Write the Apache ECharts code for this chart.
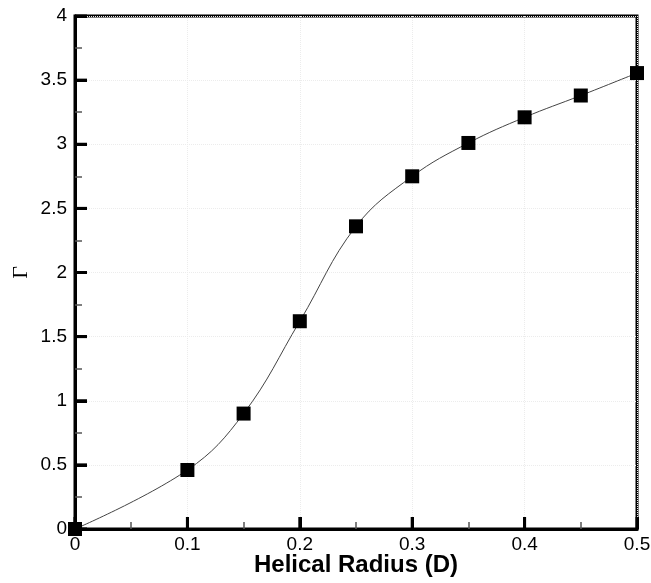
<!DOCTYPE html>
<html>
<head>
<meta charset="utf-8">
<script src="https://cdn.jsdelivr.net/npm/echarts@6/dist/echarts.min.js"></script>
<style>
  html, body { margin: 0; padding: 0; background: #fff; }
  #main { width: 651px; height: 583px; }
</style>
</head>
<body>
<div id="main"></div>
<script>
// helical radius (D) and circulation values
var radius = [0, 0.1, 0.15, 0.2, 0.25, 0.3, 0.35, 0.4, 0.45, 0.5];
var gamma = [0, 0.46, 0.9, 1.62, 2.36, 2.75, 3.01, 3.21, 3.38, 3.555];

// major tick values
var xTicks = [0, 0.1, 0.2, 0.3, 0.4, 0.5];
var yTicks = [0, 0.5, 1, 1.5, 2, 2.5, 3, 3.5, 4];

var points = [];
for (var i = 0; i < radius.length; i++) {
    points.push([radius[i], gamma[i]]);
}

var chart = echarts.init(document.getElementById('main'), null, { renderer: 'canvas' });

var axisFont = { color: '#000', fontSize: 19, fontFamily: 'Liberation Sans, Arial, sans-serif' };

var option = {
    backgroundColor: '#ffffff',
    animation: false,
    grid: {
        left: 75,
        right: 14,
        top: 16,
        bottom: 54,
        containLabel: false,
        outerBoundsMode: 'none',
        show: true,
        borderColor: '#000',
        borderWidth: 3,
        backgroundColor: 'transparent'
    },
    xAxis: {
        type: 'value',
        min: 0,
        max: 0.5,
        interval: 0.1,
        name: 'Helical Radius (D)',
        nameLocation: 'middle',
        nameGap: 24,
        nameMoveOverlap: false,
        nameTextStyle: {
            color: '#000',
            fontSize: 24,
            fontWeight: 'bold',
            fontFamily: 'Liberation Sans, Arial, sans-serif',
            verticalAlign: 'top'
        },
        axisLine: { show: true, lineStyle: { color: '#000', width: 3 } },
        axisTick: { show: true, inside: true, length: 12, lineStyle: { color: '#000', width: 3 } },
        minorTick: { show: true, splitNumber: 2, length: 7, lineStyle: { color: '#555', width: 1.5 } },
        axisLabel: Object.assign({ margin: 6 }, axisFont),
        splitLine: { show: true, lineStyle: { color: '#ececec', type: 'dotted', width: 1 } }
    },
    yAxis: {
        type: 'value',
        min: 0,
        max: 4,
        interval: 0.5,
        name: 'Γ',
        nameLocation: 'middle',
        nameGap: 43,
        nameRotate: 90,
        nameMoveOverlap: false,
        nameTextStyle: {
            color: '#000',
            fontSize: 22,
            fontFamily: 'Liberation Serif, Times New Roman, serif'
        },
        axisLine: { show: true, lineStyle: { color: '#000', width: 3 } },
        axisTick: { show: true, inside: true, length: 12, lineStyle: { color: '#000', width: 3 } },
        minorTick: { show: true, splitNumber: 2, length: 7, lineStyle: { color: '#555', width: 1.5 } },
        axisLabel: Object.assign({ margin: 8 }, axisFont),
        splitLine: { show: true, lineStyle: { color: '#ececec', type: 'dotted', width: 1 } }
    },
    series: [
        {
            type: 'line',
            data: points,
            smooth: 0.4,
            symbol: 'rect',
            symbolSize: 14,
            itemStyle: { color: '#000' },
            lineStyle: { color: '#444', width: 1 },
            z: 5
        }
    ]
};

chart.setOption(option);

// major ticks drawn through the axes' own scales (the built-in ones did not show)
var tickLen = 12;
var x0 = chart.convertToPixel({ xAxisIndex: 0 }, 0);
var y0 = chart.convertToPixel({ yAxisIndex: 0 }, 0);
var ticks = [];
xTicks.forEach(function (v) {
    var px = chart.convertToPixel({ xAxisIndex: 0 }, v);
    ticks.push({
        type: 'line',
        shape: { x1: px, y1: y0, x2: px, y2: y0 - tickLen },
        style: { stroke: '#000', lineWidth: 3 },
        silent: true
    });
});
yTicks.forEach(function (v) {
    var py = chart.convertToPixel({ yAxisIndex: 0 }, v);
    ticks.push({
        type: 'line',
        shape: { x1: x0, y1: py, x2: x0 + tickLen, y2: py },
        style: { stroke: '#000', lineWidth: 3 },
        silent: true
    });
});
chart.setOption({ graphic: { elements: ticks, z: 3 } });
</script>
</body>
</html>
